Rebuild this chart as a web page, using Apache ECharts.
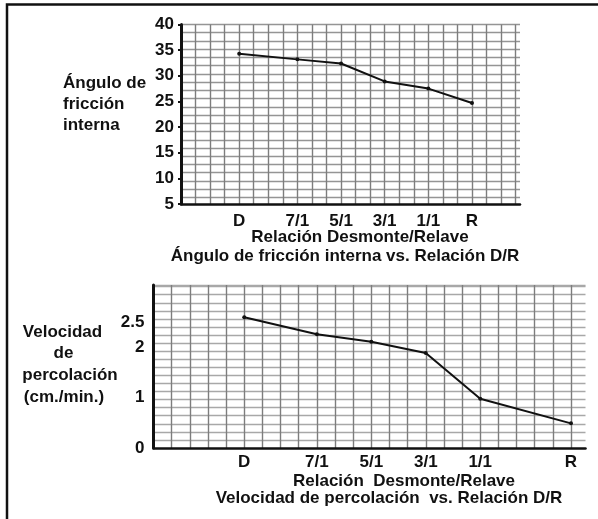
<!DOCTYPE html>
<html>
<head>
<meta charset="utf-8">
<script src="https://cdn.jsdelivr.net/npm/echarts@6/dist/echarts.min.js"></script>
<style>
html,body{margin:0;padding:0;background:#fff;}
#chart{width:598px;height:519px;}
</style>
</head>
<body>
<div id="chart"></div>
<script>
// ---- data ----
const categories = ['D', '7/1', '5/1', '3/1', '1/1', 'R'];
const friccion = [34.3, 33.2, 32.4, 28.9, 27.5, 24.7];          // Ángulo de fricción interna
const percolacion = [2.60, 2.26, 2.11, 1.89, 0.98, 0.49];       // Velocidad de percolación (cm./min.)
const colTop = [4, 8, 11, 14, 17, 20];      // graph-paper column of each category (top chart)
const colBottom = [5, 9, 12, 15, 18, 23];   // graph-paper column of each category (bottom chart)
const yTicksTop = [5, 10, 15, 20, 25, 30, 35, 40];
const yTicksBottom = [0, 1, 2, 2.5];

const FONT = "'Liberation Sans', Arial, sans-serif";
const INK = '#111';
const txt = {fontFamily: FONT, fontWeight: 'bold', fontSize: 17, color: INK};

function catLabel(cols) {
  return function (v) {
    const i = cols.indexOf(Math.round(v * 1000) / 1000);
    return i >= 0 && Math.abs(cols[i] - v) < 1e-6 ? categories[i] : '';
  };
}
function listLabel(list) {
  return function (v) {
    const r = Math.round(v * 1000) / 1000;
    return list.indexOf(r) >= 0 ? String(r) : '';
  };
}

const chart = echarts.init(document.getElementById('chart'), null, {renderer: 'canvas'});

function gtext(text, x, y, align) {
  return {
    type: 'text', x: x, y: y, silent: true,
    style: {text: text, fill: INK, font: 'bold 17px ' + FONT, textAlign: align || 'center', textVerticalAlign: 'middle'}
  };
}

const option = {
  backgroundColor: '#fff',
  animation: false,
  grid: [
    {left: 181, top: 24.5, width: 339, height: 179.5},
    {left: 153.5, top: 285, width: 432, height: 163}
  ],
  xAxis: [
    {
      gridIndex: 0, type: 'value', min: 0, max: 23.3, interval: 1,
      axisLine: {show: true, onZero: false, lineStyle: {color: INK, width: 2.5}},
      axisTick: {show: false},
      axisLabel: Object.assign({margin: 9, customValues: colTop, formatter: catLabel(colTop), showMinLabel: true, showMaxLabel: true}, txt),
      splitLine: {show: true, showMinLine: false, showMaxLine: false, lineStyle: {color: '#7d7d7d', width: 1.4}}
    },
    {
      gridIndex: 1, type: 'value', min: 0, max: 23.8, interval: 1,
      axisLine: {show: true, onZero: false, lineStyle: {color: INK, width: 2.5}},
      axisTick: {show: false},
      axisLabel: Object.assign({margin: 6, customValues: colBottom, formatter: catLabel(colBottom), showMinLabel: true, showMaxLabel: true}, txt),
      splitLine: {show: true, showMinLine: false, showMaxLine: false, lineStyle: {color: '#7d7d7d', width: 1.4}}
    }
  ],
  yAxis: [
    {
      gridIndex: 0, type: 'value', min: 5, max: 40, interval: 5, position: 'left',
      axisLine: {show: true, onZero: false, lineStyle: {color: INK, width: 3}},
      axisTick: {show: true, length: 3, lineStyle: {color: INK, width: 2}},
      axisLabel: Object.assign({margin: 7, formatter: listLabel(yTicksTop)}, txt),
      splitLine: {show: false}
    },
    {
      gridIndex: 0, type: 'value', min: 0, max: 21.8, interval: 1, inverse: true, position: 'left',
      axisLine: {show: false}, axisTick: {show: false}, axisLabel: {show: false},
      splitLine: {show: true, showMinLine: true, showMaxLine: false, lineStyle: {color: '#959595', width: 1.3}}
    },
    {
      gridIndex: 1, type: 'value', min: 0, max: 3.24, interval: 0.5, position: 'left',
      axisLine: {show: true, onZero: false, lineStyle: {color: INK, width: 3}},
      axisTick: {show: false},
      axisLabel: Object.assign({margin: 9, customValues: yTicksBottom, formatter: listLabel(yTicksBottom)}, txt),
      splitLine: {show: false}
    },
    {
      gridIndex: 1, type: 'value', min: 0, max: 20.2, interval: 1, position: 'left',
      axisLine: {show: false}, axisTick: {show: false}, axisLabel: {show: false},
      splitLine: {show: true, showMinLine: false, showMaxLine: true, lineStyle: {color: '#a8a8a8', width: 1.3}}
    }
  ],
  series: [
    {
      type: 'line', xAxisIndex: 0, yAxisIndex: 0,
      data: categories.map((c, i) => [colTop[i], friccion[i]]),
      symbol: 'circle', symbolSize: 4,
      itemStyle: {color: INK},
      lineStyle: {color: INK, width: 2},
      z: 5
    },
    {
      type: 'line', xAxisIndex: 1, yAxisIndex: 2,
      data: categories.map((c, i) => [colBottom[i], percolacion[i]]),
      symbol: 'circle', symbolSize: 4,
      itemStyle: {color: INK},
      lineStyle: {color: INK, width: 2},
      z: 5
    }
  ],
  graphic: [
    {type: 'rect', silent: true, shape: {x: 7, y: 4.5, width: 640, height: 560},
     style: {fill: 'none', stroke: INK, lineWidth: 2.5}},
    gtext('Ángulo de', 63, 83, 'left'),
    gtext('fricción', 63, 104, 'left'),
    gtext('interna', 63, 125, 'left'),
    gtext('Velocidad', 62.5, 332),
    gtext('de', 63.5, 353.5),
    gtext('percolación', 70, 375),
    gtext('(cm./min.)', 64, 397),
    gtext('Relación Desmonte/Relave', 360, 237.5),
    gtext('Ángulo de fricción interna vs. Relación D/R', 345, 256),
    gtext('Relación  Desmonte/Relave', 404, 481.5),
    gtext('Velocidad de percolación  vs. Relación D/R', 389, 498.5)
  ]
};
chart.setOption(option);
</script>
</body>
</html>
